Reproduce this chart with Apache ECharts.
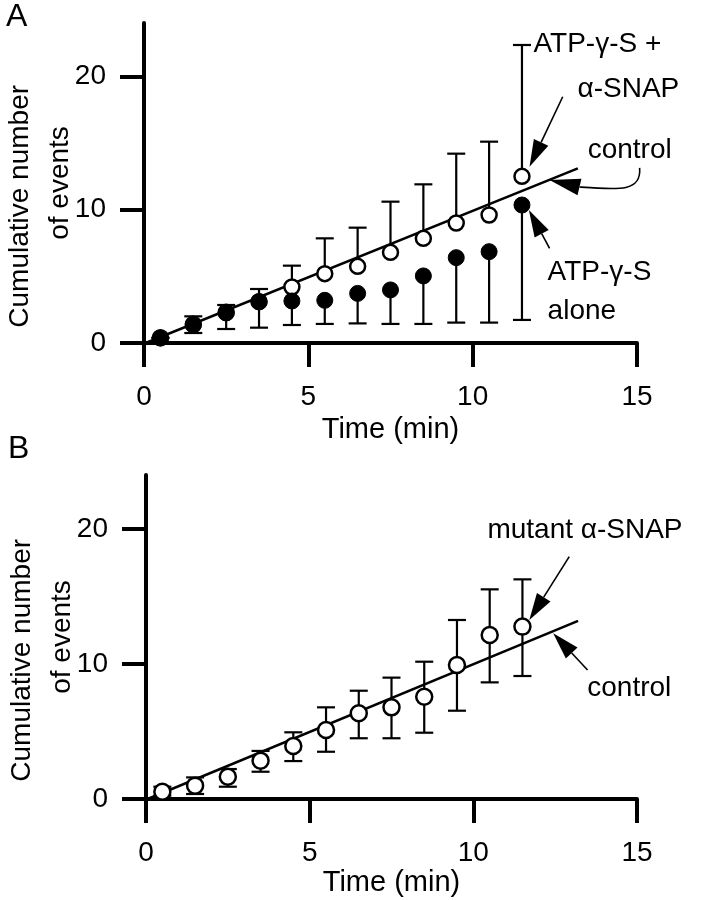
<!DOCTYPE html>
<html><head><meta charset="utf-8">
<script src="https://cdn.jsdelivr.net/npm/echarts@6/dist/echarts.min.js"></script>
<style>html,body{margin:0;padding:0;background:#fff}#c{width:702px;height:900px}</style>
</head><body><div id="c"></div>
<script>
// ---------- data ----------
const timePoints = [0.5, 1.5, 2.5, 3.5, 4.5, 5.5, 6.5, 7.5, 8.5, 9.5, 10.5, 11.5];
const xTicks = [0, 5, 10, 15];
const yTicks = [0, 10, 20];

// Panel A: ATP-γ-S + α-SNAP (open circles, upward SE)
const snapMeanA  = [0.4, 1.4, 2.3, 3.1, 4.2, 5.2, 5.75, 6.8, 7.85, 9.0, 9.6, 12.5];
const snapUpperA = [0.4, 2.0, 2.85, 4.05, 5.8, 7.85, 8.65, 10.6, 11.9, 14.2, 15.1, 22.35];
// Panel A: ATP-γ-S alone (filled circles, downward SE)
const aloneMeanA  = [0.37, 1.35, 2.25, 3.1, 3.15, 3.2, 3.72, 3.98, 5.03, 6.4, 6.85, 10.35];
const aloneLowerA = [0.37, 0.75, 1.05, 1.15, 1.35, 1.43, 1.47, 1.43, 1.43, 1.53, 1.53, 1.73];
// Panel A control line
const controlA = [[0.05, 0], [13.2, 13.1]];

// Panel B: mutant α-SNAP (open circles, ±SE)
const mutantMeanB  = [0.54, 0.99, 1.65, 2.84, 3.93, 5.11, 6.35, 6.79, 7.58, 9.93, 12.15, 12.77];
const mutantUpperB = [0.91, 1.6, 2.22, 3.56, 4.94, 6.79, 8.02, 8.99, 10.17, 13.26, 15.53, 16.27];
const mutantLowerB = [0.25, 0.37, 0.91, 2.02, 2.81, 3.5, 4.5, 4.5, 4.91, 6.54, 8.64, 9.11];
// Panel B control line
const controlB = [[0.05, 0], [13.2, 13.2]];

// ---------- styling ----------
const FONT = "'Liberation Sans', Arial, Helvetica, sans-serif";
const chart = echarts.init(document.getElementById('c'), null, {renderer: 'canvas'});

function xAxisCfg(grid, gap) {
  return {
    type: 'value', gridIndex: grid, min: 0, max: 15, interval: 5,
    axisLine: {show: true, onZero: false, lineStyle: {color: '#000', width: 4}},
    axisTick: {show: true, length: 24, lineStyle: {color: '#000', width: 4}, customValues: xTicks},
    axisLabel: {margin: 40, fontSize: 28, color: '#000', fontFamily: FONT, customValues: xTicks},
    splitLine: {show: false},
    name: 'Time (min)', nameLocation: 'middle', nameGap: gap, nameMoveOverlap: false,
    nameTextStyle: {fontSize: 29, color: '#000', fontFamily: FONT}
  };
}
function yAxisCfg(grid) {
  return {
    type: 'value', gridIndex: grid, min: 0, max: 24, interval: 10,
    axisLine: {show: true, onZero: false, lineStyle: {color: '#000', width: 4}},
    axisTick: {show: true, length: 24, lineStyle: {color: '#000', width: 4}, customValues: yTicks},
    axisLabel: {margin: 38, fontSize: 28, color: '#000', fontFamily: FONT, customValues: yTicks},
    splitLine: {show: false},
    name: 'Cumulative number      \nof events', nameLocation: 'middle', nameGap: 64, nameRotate: 90,
    nameMoveOverlap: false,
    nameTextStyle: {fontSize: 28, lineHeight: 40, color: '#000', fontFamily: FONT, align: 'center'}
  };
}

function errBar(capLow, capHigh) {
  return function (params, api) {
    const x = api.value(0), lo = api.value(1), hi = api.value(2);
    const pLo = api.coord([x, lo]), pHi = api.coord([x, hi]);
    const hw = 9;
    const st = {stroke: '#000', lineWidth: 2.2};
    const ch = [{type: 'line', shape: {x1: pLo[0], y1: pLo[1], x2: pHi[0], y2: pHi[1]}, style: st}];
    if (capLow) ch.push({type: 'line', shape: {x1: pLo[0] - hw, y1: pLo[1], x2: pLo[0] + hw, y2: pLo[1]}, style: st});
    if (capHigh) ch.push({type: 'line', shape: {x1: pHi[0] - hw, y1: pHi[1], x2: pHi[0] + hw, y2: pHi[1]}, style: st});
    return {type: 'group', children: ch};
  };
}

const zipErr = (lo, hi) => timePoints.map((t, i) => [t, lo[i], hi[i]]);
const zip2 = (a) => timePoints.map((t, i) => [t, a[i]]);

const openStyle = {color: '#fff', borderColor: '#000', borderWidth: 2.5, opacity: 1};
const fillStyle = {color: '#000', borderColor: '#000', borderWidth: 1, opacity: 1};
const errCommon = {type: 'custom', z: 1, dimensions: ['x', 'lo', 'hi'], encode: {x: 0, y: [1, 2]}};

chart.setOption({
  animation: false,
  backgroundColor: '#fff',
  grid: [
    {left: 144, right: 65, top: 23, bottom: 557, containLabel: false, outerBoundsMode: 'none'},
    {left: 146, right: 65, top: 475, bottom: 101, containLabel: false, outerBoundsMode: 'none'}
  ],
  xAxis: [xAxisCfg(0, 72), xAxisCfg(1, 69)],
  yAxis: [yAxisCfg(0), yAxisCfg(1)],
  series: [
    // Panel A
    Object.assign({}, errCommon, {xAxisIndex: 0, yAxisIndex: 0, renderItem: errBar(false, true),
      data: zipErr(snapMeanA, snapUpperA)}),
    Object.assign({}, errCommon, {xAxisIndex: 0, yAxisIndex: 0, renderItem: errBar(true, false),
      data: zipErr(aloneLowerA, aloneMeanA)}),
    {type: 'line', xAxisIndex: 0, yAxisIndex: 0, z: 2, data: controlA, showSymbol: false,
     lineStyle: {color: '#000', width: 2.5}},
    {type: 'scatter', xAxisIndex: 0, yAxisIndex: 0, z: 3, symbol: 'circle', symbolSize: 15,
     itemStyle: openStyle, data: zip2(snapMeanA)},
    {type: 'scatter', xAxisIndex: 0, yAxisIndex: 0, z: 4, symbol: 'circle', symbolSize: 16,
     itemStyle: fillStyle, data: zip2(aloneMeanA)},
    // Panel B
    Object.assign({}, errCommon, {xAxisIndex: 1, yAxisIndex: 1, renderItem: errBar(true, true),
      data: zipErr(mutantLowerB, mutantUpperB)}),
    {type: 'line', xAxisIndex: 1, yAxisIndex: 1, z: 2, data: controlB, showSymbol: false,
     lineStyle: {color: '#000', width: 2.5}},
    {type: 'scatter', xAxisIndex: 1, yAxisIndex: 1, z: 3, symbol: 'circle', symbolSize: 16,
     itemStyle: openStyle, data: zip2(mutantMeanB)}
  ]
});

// ---------- annotations (anchored in data coordinates) ----------
const textsA = [
  {t: 'ATP-\u03b3-S +', at: [11.85, 21.68]},
  {t: '\u03b1-SNAP', at: [13.19, 18.3]},
  {t: 'control', at: [13.5, 13.73]},
  {t: 'ATP-\u03b3-S', at: [12.28, 4.58]},
  {t: 'alone', at: [12.28, 1.65]}
];
const textsB = [
  {t: 'mutant \u03b1-SNAP', at: [10.43, 19.19]},
  {t: 'control', at: [13.48, 7.48]}
];
const arrowsA = [
  {tail: [12.74, 18.47], tip: [11.73, 13.22]},
  {tail: [12.34, 7.1], tip: [11.71, 9.98]}
];
const arrowsB = [
  {tail: [12.93, 17.95], tip: [11.71, 13.26]},
  {tail: [13.49, 9.56], tip: [12.44, 12.27]}
];
const curvedA = {tip: [12.34, 12.23], base: [13.25, 11.7], cp1: [14.47, 11.48], cp2: [15.14, 11.33], end: [15.08, 13.13]};

const px = (g, p) => chart.convertToPixel({gridIndex: g}, p);
const FS = 28;
const gfx = [];
function addText(g, item) {
  const p = px(g, item.at);
  gfx.push({type: 'text', x: p[0], y: p[1] - 0.35 * FS, z: 10,
    style: {text: item.t, fill: '#000', font: FS + 'px ' + FONT, textAlign: 'left', textVerticalAlign: 'middle'}});
}
function head(tip, from, L, W) {
  const dx = tip[0] - from[0], dy = tip[1] - from[1], len = Math.hypot(dx, dy);
  const ux = dx / len, uy = dy / len;
  const b = [tip[0] - ux * L, tip[1] - uy * L];
  const nx = -uy, ny = ux;
  gfx.push({type: 'polygon', z: 10, shape: {points: [tip, [b[0] + nx * W / 2, b[1] + ny * W / 2], [b[0] - nx * W / 2, b[1] - ny * W / 2]]},
    style: {fill: '#000'}});
  return b;
}
function addArrow(g, a) {
  const tail = px(g, a.tail), tip = px(g, a.tip);
  const b = head(tip, tail, 27, 16);
  gfx.push({type: 'line', z: 10, shape: {x1: tail[0], y1: tail[1], x2: b[0], y2: b[1]}, style: {stroke: '#000', lineWidth: 1.6}});
}
textsA.forEach(t => addText(0, t));
textsB.forEach(t => addText(1, t));
arrowsA.forEach(a => addArrow(0, a));
arrowsB.forEach(a => addArrow(1, a));
(function () {
  const tip = px(0, curvedA.tip), base = px(0, curvedA.base);
  const c1 = px(0, curvedA.cp1), c2 = px(0, curvedA.cp2), e = px(0, curvedA.end);
  head(tip, base, Math.hypot(tip[0] - base[0], tip[1] - base[1]), 17);
  gfx.push({type: 'bezierCurve', z: 10, shape: {x1: base[0], y1: base[1], cpx1: c1[0], cpy1: c1[1], cpx2: c2[0], cpy2: c2[1], x2: e[0], y2: e[1]},
    style: {stroke: '#000', lineWidth: 1.6, fill: null}});
})();
// panel letters
gfx.push({type: 'text', left: 6, top: 1, style: {text: 'A', fill: '#000', font: '32px ' + FONT}});
gfx.push({type: 'text', left: 8, top: 433, style: {text: 'B', fill: '#000', font: '32px ' + FONT}});

chart.setOption({graphic: gfx});
</script>
</body></html>
